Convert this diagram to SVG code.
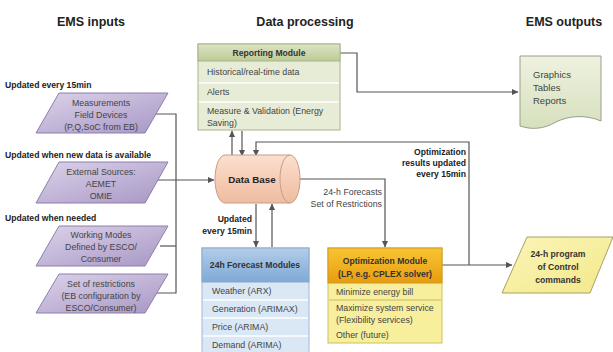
<svg xmlns="http://www.w3.org/2000/svg" width="613" height="352" viewBox="0 0 613 352">
<defs>
<linearGradient id="gPurple" x1="0" y1="0" x2="1" y2="1"><stop offset="0" stop-color="#ddd3ea"/><stop offset="1" stop-color="#a696c4"/></linearGradient>
<linearGradient id="gPeach" x1="0" y1="0" x2="0" y2="1"><stop offset="0" stop-color="#fbe0d0"/><stop offset="0.5" stop-color="#f6cdb5"/><stop offset="1" stop-color="#eebca2"/></linearGradient>
<linearGradient id="gGreenH" x1="0" y1="0" x2="0" y2="1"><stop offset="0" stop-color="#dbe4c4"/><stop offset="1" stop-color="#bccb95"/></linearGradient>
<linearGradient id="gBlueH" x1="0" y1="0" x2="0" y2="1"><stop offset="0" stop-color="#b3cde8"/><stop offset="1" stop-color="#7fa9d6"/></linearGradient>
<linearGradient id="gOrangeH" x1="0" y1="0" x2="0" y2="1"><stop offset="0" stop-color="#f8c533"/><stop offset="1" stop-color="#e89c10"/></linearGradient>
<linearGradient id="gDoc" x1="0" y1="0" x2="0" y2="1"><stop offset="0" stop-color="#eef2e0"/><stop offset="1" stop-color="#d6e0bc"/></linearGradient>
<linearGradient id="gYellow" x1="0" y1="0" x2="1" y2="1"><stop offset="0" stop-color="#fbf5b8"/><stop offset="1" stop-color="#f3e88a"/></linearGradient>
<marker id="arr" markerWidth="7" markerHeight="7" refX="6" refY="3.5" orient="auto" markerUnits="userSpaceOnUse"><path d="M0,0.5 L6.5,3.5 L0,6.5 Z" fill="#555"/></marker>
</defs>
<style>
text{font-family:"Liberation Sans",Arial,sans-serif;fill:#333}
.title{font-size:12.5px;font-weight:bold;fill:#222}
.lbl{font-size:8.6px;font-weight:bold;fill:#222}
.t{font-size:8.8px;fill:#444}
.tb{font-size:8.6px;font-weight:bold;fill:#333}
.c{text-anchor:middle}
.r{text-anchor:end}
.para{fill:url(#gPurple);stroke:#8d7fab;stroke-width:1}
.conn{fill:none;stroke:#555;stroke-width:1.2}
</style>
<rect width="613" height="352" fill="#ffffff"/>
<g id="titles">
<text class="title c" x="91" y="26">EMS inputs</text>
<text class="title c" x="305" y="26">Data processing</text>
<text class="title c" x="564" y="26">EMS outputs</text>
</g>
<g id="labels">
<text class="lbl" x="5" y="88">Updated every 15min</text>
<text class="lbl" x="5" y="158">Updated when new data is available</text>
<text class="lbl" x="5" y="221">Updated when needed</text>
</g>
<g id="connectors">
<path class="conn" d="M156,114 H176 V293 H145"/>
<path class="conn" d="M160,246 H176"/>
<path class="conn" d="M156,180 H214" marker-end="url(#arr)"/>
<path class="conn" d="M232,156 V131" marker-end="url(#arr)"/>
<path class="conn" d="M242,131 V156" marker-end="url(#arr)"/>
<path class="conn" d="M469,265 V142 H256 V156" marker-end="url(#arr)"/>
<path class="conn" d="M340,53 H357 V92 H518" marker-end="url(#arr)"/>
<path class="conn" d="M294,179 H385 V247" marker-end="url(#arr)"/>
<path class="conn" d="M256,204 V247" marker-end="url(#arr)"/>
<path class="conn" d="M272,247 V204" marker-end="url(#arr)"/>
<path class="conn" d="M442,265 H512" marker-end="url(#arr)"/>
</g>
<g id="in-measurements">
<polygon class="para" points="59,93 168,93 145,133 36,133"/>
<text class="t c" x="101" y="106">Measurements</text>
<text class="t c" x="101" y="118">Field Devices</text>
<text class="t c" x="101" y="130">(P,Q,SoC from EB)</text>
</g>
<g id="in-external">
<polygon class="para" points="59,162 168,162 145,203 36,203"/>
<text class="t c" x="101" y="175">External Sources:</text>
<text class="t c" x="101" y="187">AEMET</text>
<text class="t c" x="101" y="199">OMIE</text>
</g>
<g id="in-working">
<polygon class="para" points="59,226 168,226 145,266 36,266"/>
<text class="t c" x="101" y="238">Working Modes</text>
<text class="t c" x="101" y="250">Defined by ESCO/</text>
<text class="t c" x="101" y="262">Consumer</text>
</g>
<g id="in-restrictions">
<polygon class="para" points="59,274 168,274 145,313 36,313"/>
<text class="t c" x="101" y="287">Set of restrictions</text>
<text class="t c" x="101" y="299">(EB configuration by</text>
<text class="t c" x="101" y="311">ESCO/Consumer)</text>
</g>
<g id="reporting">
<rect x="198" y="44" width="142" height="86" fill="#e6ecd6" stroke="#a9b48e" stroke-width="1"/>
<rect x="198" y="44" width="142" height="17" fill="url(#gGreenH)" stroke="#a9b48e" stroke-width="1"/>
<line x1="199" y1="83" x2="339" y2="83" stroke="#fff" stroke-width="1.5"/>
<line x1="199" y1="102" x2="339" y2="102" stroke="#fff" stroke-width="1.5"/>
<text class="tb c" x="269" y="56">Reporting Module</text>
<text class="t" x="207" y="75">Historical/real-time data</text>
<text class="t" x="207" y="95">Alerts</text>
<text class="t" x="207" y="114">Measure &amp; Validation (Energy</text>
<text class="t" x="207" y="126">Saving)</text>
</g>
<g id="database">
<path d="M225,155 H290 A10,24 0 0 1 290,203 H225 A10,24 0 0 1 225,155 Z" fill="url(#gPeach)" stroke="#c89c86" stroke-width="1"/>
<path d="M290,155 A10,24 0 0 0 290,203" fill="none" stroke="#c89c86" stroke-width="1"/>
<text class="c" x="252" y="183" style="font-size:9.8px;font-weight:bold;fill:#222">Data Base</text>
</g>
<g id="lbl-updated">
<text class="lbl r" x="252" y="222">Updated</text>
<text class="lbl r" x="252" y="234">every 15min</text>
</g>
<g id="lbl-forecasts">
<text class="t r" x="382" y="195">24-h Forecasts</text>
<text class="t r" x="382" y="207">Set of Restrictions</text>
</g>
<g id="lbl-optres">
<text class="lbl r" x="466" y="155">Optimization</text>
<text class="lbl r" x="466" y="166">results updated</text>
<text class="lbl r" x="466" y="177">every 15min</text>
</g>
<g id="forecast">
<rect x="202" y="248" width="107" height="110" fill="#dae7f4" stroke="#9fb9d6" stroke-width="1"/>
<rect x="202" y="248" width="107" height="34" fill="url(#gBlueH)" stroke="#8aa9cc" stroke-width="1"/>
<line x1="203" y1="300" x2="308" y2="300" stroke="#fff" stroke-width="1.5"/>
<line x1="203" y1="318" x2="308" y2="318" stroke="#fff" stroke-width="1.5"/>
<line x1="203" y1="336" x2="308" y2="336" stroke="#fff" stroke-width="1.5"/>
<text class="tb c" x="255" y="268">24h Forecast Modules</text>
<text class="t" x="212" y="294">Weather (ARX)</text>
<text class="t" x="212" y="312">Generation (ARIMAX)</text>
<text class="t" x="212" y="330">Price (ARIMA)</text>
<text class="t" x="212" y="348">Demand (ARIMA)</text>
</g>
<g id="optimization">
<rect x="328" y="248" width="114" height="95" fill="#f8ef9c" stroke="#cdbf62" stroke-width="1"/>
<rect x="328" y="248" width="114" height="35" fill="url(#gOrangeH)" stroke="#cf9a22" stroke-width="1"/>
<line x1="329" y1="300" x2="441" y2="300" stroke="#b9ad60" stroke-width="0.8"/>
<text class="tb c" x="385" y="264">Optimization Module</text>
<text class="tb c" x="385" y="277">(LP, e.g. CPLEX solver)</text>
<text class="t" x="336" y="295">Minimize energy bill</text>
<text class="t" x="336" y="311">Maximize system service</text>
<text class="t" x="336" y="323">(Flexibility services)</text>
<text class="t" x="336" y="338">Other (future)</text>
</g>
<g id="outputs-doc">
<path d="M520,56 H601 V121 C585,114 568,116 556,122 C544,129 532,130 520,126 Z" fill="url(#gDoc)" stroke="#9a9f8c" stroke-width="1"/>
<text x="533" y="78" style="font-size:9.5px;fill:#444">Graphics</text>
<text x="533" y="91" style="font-size:9.5px;fill:#444">Tables</text>
<text x="533" y="104" style="font-size:9.5px;fill:#444">Reports</text>
</g>
<g id="program">
<polygon points="527,237 613,237 590,293 502,293" fill="url(#gYellow)" stroke="#a8a064" stroke-width="1"/>
<text class="tb c" x="558" y="257">24-h program</text>
<text class="tb c" x="558" y="270">of Control</text>
<text class="tb c" x="558" y="283">commands</text>
</g>
</svg>
